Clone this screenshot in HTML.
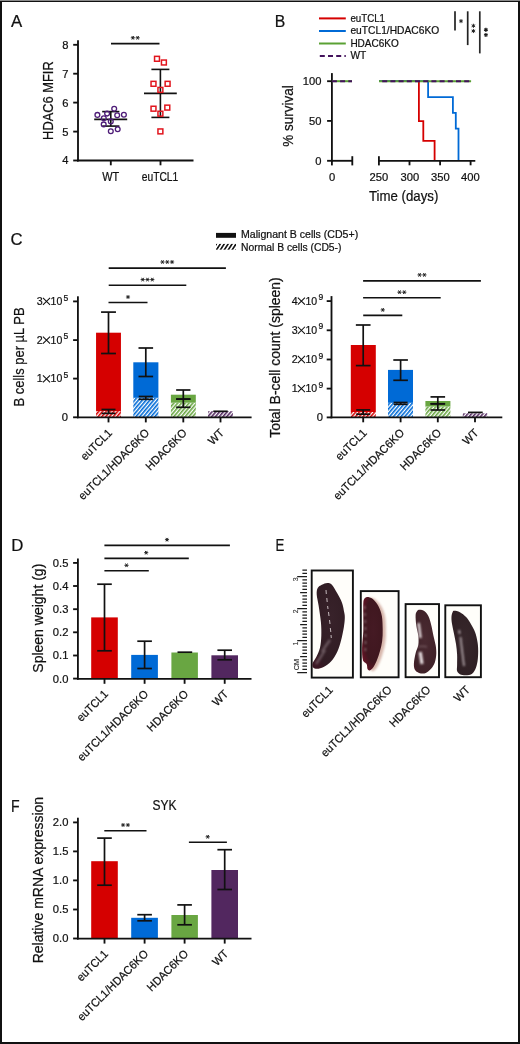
<!DOCTYPE html>
<html><head><meta charset="utf-8"><style>
html,body{margin:0;padding:0;background:#fff;}
svg{display:block;font-family:"Liberation Sans", sans-serif;will-change:transform;}
</style></head><body>
<svg width="520" height="1044" viewBox="0 0 520 1044">
<defs>
<pattern id="hr" patternUnits="userSpaceOnUse" width="2.9" height="10" patternTransform="rotate(40)"><rect x="0" y="0" width="1.6" height="10" fill="#d50000"/></pattern>
<pattern id="hb" patternUnits="userSpaceOnUse" width="2.9" height="10" patternTransform="rotate(40)"><rect x="0" y="0" width="1.6" height="10" fill="#006ad6"/></pattern>
<pattern id="hg" patternUnits="userSpaceOnUse" width="2.9" height="10" patternTransform="rotate(40)"><rect x="0" y="0" width="1.6" height="10" fill="#69a642"/></pattern>
<pattern id="hp" patternUnits="userSpaceOnUse" width="2.9" height="10" patternTransform="rotate(40)"><rect x="0" y="0" width="1.6" height="10" fill="#52275f"/></pattern>
<pattern id="hk" patternUnits="userSpaceOnUse" width="3.3" height="10" patternTransform="rotate(33)"><rect x="0" y="0" width="1.6" height="10" fill="#111"/></pattern>
<radialGradient id="sp1" cx="0.6" cy="0.4" r="0.7"><stop offset="0" stop-color="#38222a"/><stop offset="0.8" stop-color="#301c23"/><stop offset="1" stop-color="#3a1622"/></radialGradient>
<radialGradient id="sp2" cx="0.55" cy="0.45" r="0.62"><stop offset="0" stop-color="#451a24"/><stop offset="0.7" stop-color="#3f171f"/><stop offset="1" stop-color="#621324"/></radialGradient>
<radialGradient id="sp3" cx="0.5" cy="0.45" r="0.7"><stop offset="0" stop-color="#4a2a31"/><stop offset="0.8" stop-color="#3f2228"/><stop offset="1" stop-color="#4a1c26"/></radialGradient>
<radialGradient id="sp4" cx="0.5" cy="0.45" r="0.7"><stop offset="0" stop-color="#37272b"/><stop offset="0.8" stop-color="#2f2024"/><stop offset="1" stop-color="#3a1b24"/></radialGradient>
<filter id="blur05" x="-50%" y="-50%" width="200%" height="200%"><feGaussianBlur stdDeviation="0.5"/></filter>
<filter id="blur08" x="-50%" y="-50%" width="200%" height="200%"><feGaussianBlur stdDeviation="0.8"/></filter>
<filter id="blur1" x="-20%" y="-20%" width="140%" height="140%"><feGaussianBlur stdDeviation="1.2"/></filter>
</defs>
<rect x="0" y="0" width="520" height="1044" fill="#fff"/>
<text x="11.00" y="26.80" font-size="16.8" text-anchor="start" fill="#111" stroke="#111" stroke-width="0.22" >A</text>
<line x1="78.00" y1="40.20" x2="78.00" y2="161.40" stroke="#111" stroke-width="1.85" />
<line x1="73.20" y1="44.80" x2="78.00" y2="44.80" stroke="#111" stroke-width="1.85" />
<line x1="73.20" y1="73.70" x2="78.00" y2="73.70" stroke="#111" stroke-width="1.85" />
<line x1="73.20" y1="102.60" x2="78.00" y2="102.60" stroke="#111" stroke-width="1.85" />
<line x1="73.20" y1="131.60" x2="78.00" y2="131.60" stroke="#111" stroke-width="1.85" />
<line x1="73.20" y1="160.50" x2="78.00" y2="160.50" stroke="#111" stroke-width="1.85" />
<text x="68.50" y="48.70" font-size="11.2" text-anchor="end" fill="#111" stroke="#111" stroke-width="0.22" >8</text>
<text x="68.50" y="77.60" font-size="11.2" text-anchor="end" fill="#111" stroke="#111" stroke-width="0.22" >7</text>
<text x="68.50" y="106.50" font-size="11.2" text-anchor="end" fill="#111" stroke="#111" stroke-width="0.22" >6</text>
<text x="68.50" y="135.50" font-size="11.2" text-anchor="end" fill="#111" stroke="#111" stroke-width="0.22" >5</text>
<text x="68.50" y="164.40" font-size="11.2" text-anchor="end" fill="#111" stroke="#111" stroke-width="0.22" >4</text>
<line x1="77.10" y1="160.50" x2="193.50" y2="160.50" stroke="#111" stroke-width="1.85" />
<line x1="110.80" y1="160.50" x2="110.80" y2="165.30" stroke="#111" stroke-width="1.85" />
<line x1="160.50" y1="160.50" x2="160.50" y2="165.30" stroke="#111" stroke-width="1.85" />
<text x="110.80" y="180.80" font-size="12.2" text-anchor="middle" fill="#111" textLength="17.00" lengthAdjust="spacingAndGlyphs" stroke="#111" stroke-width="0.22" >WT</text>
<text x="160.00" y="180.80" font-size="12.2" text-anchor="middle" fill="#111" textLength="36.50" lengthAdjust="spacingAndGlyphs" stroke="#111" stroke-width="0.22" >euTCL1</text>
<text transform="translate(52.60,100.60) rotate(-90)" x="0" y="0" font-size="15.1" text-anchor="middle" fill="#111" textLength="78.60" lengthAdjust="spacingAndGlyphs" stroke="#111" stroke-width="0.22" >HDAC6 MFIR</text>
<line x1="94.20" y1="119.40" x2="127.20" y2="119.40" stroke="#111" stroke-width="1.6" />
<line x1="110.80" y1="111.60" x2="110.80" y2="126.10" stroke="#111" stroke-width="1.6" />
<line x1="102.20" y1="111.60" x2="119.40" y2="111.60" stroke="#111" stroke-width="1.6" />
<line x1="102.20" y1="126.10" x2="119.40" y2="126.10" stroke="#111" stroke-width="1.6" />
<circle cx="114.2" cy="108.7" r="2.4" fill="none" stroke="#4e1c78" stroke-width="1.3"/>
<circle cx="97.4" cy="114.9" r="2.4" fill="none" stroke="#4e1c78" stroke-width="1.3"/>
<circle cx="107.1" cy="113.6" r="2.4" fill="none" stroke="#4e1c78" stroke-width="1.3"/>
<circle cx="117.2" cy="115.2" r="2.4" fill="none" stroke="#4e1c78" stroke-width="1.3"/>
<circle cx="123.9" cy="114.7" r="2.4" fill="none" stroke="#4e1c78" stroke-width="1.3"/>
<circle cx="103.8" cy="118.2" r="2.4" fill="none" stroke="#4e1c78" stroke-width="1.3"/>
<circle cx="110.8" cy="121.4" r="2.4" fill="none" stroke="#4e1c78" stroke-width="1.3"/>
<circle cx="103.7" cy="124.4" r="2.4" fill="none" stroke="#4e1c78" stroke-width="1.3"/>
<circle cx="117.7" cy="129.2" r="2.4" fill="none" stroke="#4e1c78" stroke-width="1.3"/>
<circle cx="110.8" cy="131.3" r="2.4" fill="none" stroke="#4e1c78" stroke-width="1.3"/>
<line x1="144.00" y1="93.40" x2="176.80" y2="93.40" stroke="#111" stroke-width="1.6" />
<line x1="160.40" y1="69.40" x2="160.40" y2="117.40" stroke="#111" stroke-width="1.6" />
<line x1="151.40" y1="69.40" x2="169.40" y2="69.40" stroke="#111" stroke-width="1.6" />
<line x1="151.40" y1="117.40" x2="169.40" y2="117.40" stroke="#111" stroke-width="1.6" />
<rect x="154.55" y="56.35" width="4.9" height="4.9" fill="none" stroke="#e1151d" stroke-width="1.5"/>
<rect x="161.45" y="60.05" width="4.9" height="4.9" fill="none" stroke="#e1151d" stroke-width="1.5"/>
<rect x="151.05" y="81.35" width="4.9" height="4.9" fill="none" stroke="#e1151d" stroke-width="1.5"/>
<rect x="165.15" y="81.35" width="4.9" height="4.9" fill="none" stroke="#e1151d" stroke-width="1.5"/>
<rect x="157.95" y="87.45" width="4.9" height="4.9" fill="none" stroke="#e1151d" stroke-width="1.5"/>
<rect x="151.05" y="106.25" width="4.9" height="4.9" fill="none" stroke="#e1151d" stroke-width="1.5"/>
<rect x="164.85" y="105.15" width="4.9" height="4.9" fill="none" stroke="#e1151d" stroke-width="1.5"/>
<rect x="157.95" y="111.25" width="4.9" height="4.9" fill="none" stroke="#e1151d" stroke-width="1.5"/>
<rect x="157.95" y="128.95" width="4.9" height="4.9" fill="none" stroke="#e1151d" stroke-width="1.5"/>
<line x1="111.00" y1="43.60" x2="159.50" y2="43.60" stroke="#111" stroke-width="1.6" />
<path d="M130.80 37.80L134.90 37.80M131.82 36.02L133.88 39.58M133.88 36.02L131.82 39.58" stroke="#1a1a1a" stroke-width="0.95" fill="none"/>
<path d="M135.60 37.80L139.70 37.80M136.62 36.02L138.68 39.58M138.68 36.02L136.62 39.58" stroke="#1a1a1a" stroke-width="0.95" fill="none"/>
<text x="274.80" y="26.50" font-size="16.8" text-anchor="start" fill="#111" textLength="10.53" lengthAdjust="spacingAndGlyphs" stroke="#111" stroke-width="0.22" >B</text>
<line x1="319.00" y1="18.40" x2="345.80" y2="18.40" stroke="#d50000" stroke-width="2.0" />
<line x1="319.00" y1="31.00" x2="345.80" y2="31.00" stroke="#006ad6" stroke-width="2.0" />
<line x1="319.00" y1="43.50" x2="345.80" y2="43.50" stroke="#5aa134" stroke-width="2.0" />
<line x1="319.00" y1="56.00" x2="345.80" y2="56.00" stroke="#43125c" stroke-width="2.0" stroke-dasharray="5 3.2" stroke-dashoffset="-0.8"/>
<text x="350.40" y="22.40" font-size="10.6" text-anchor="start" fill="#111" textLength="34.60" lengthAdjust="spacingAndGlyphs" stroke="#111" stroke-width="0.22" >euTCL1</text>
<text x="350.40" y="34.40" font-size="10.6" text-anchor="start" fill="#111" textLength="88.80" lengthAdjust="spacingAndGlyphs" stroke="#111" stroke-width="0.22" >euTCL1/HDAC6KO</text>
<text x="350.40" y="46.60" font-size="10.6" text-anchor="start" fill="#111" textLength="48.40" lengthAdjust="spacingAndGlyphs" stroke="#111" stroke-width="0.22" >HDAC6KO</text>
<text x="350.40" y="59.00" font-size="10.6" text-anchor="start" fill="#111" textLength="15.80" lengthAdjust="spacingAndGlyphs" stroke="#111" stroke-width="0.22" >WT</text>
<line x1="455.00" y1="11.30" x2="455.00" y2="30.60" stroke="#222" stroke-width="1.7" />
<line x1="467.70" y1="11.30" x2="467.70" y2="45.10" stroke="#222" stroke-width="1.7" />
<line x1="479.80" y1="11.30" x2="479.80" y2="53.40" stroke="#2a2a2a" stroke-width="1.7" />
<path d="M461.00 19.05L461.00 23.15M462.78 20.07L459.22 22.13M462.78 22.12L459.22 20.08" stroke="#1a1a1a" stroke-width="0.95" fill="none"/>
<path d="M473.40 23.75L473.40 27.85M475.18 24.77L471.62 26.83M475.18 26.82L471.62 24.78" stroke="#1a1a1a" stroke-width="0.95" fill="none"/>
<path d="M473.40 28.95L473.40 33.05M475.18 29.97L471.62 32.02M475.18 32.02L471.62 29.98" stroke="#1a1a1a" stroke-width="0.95" fill="none"/>
<path d="M485.90 27.70L485.90 31.90M487.72 28.75L484.08 30.85M487.72 30.85L484.08 28.75" stroke="#1a1a1a" stroke-width="1.2" fill="none"/>
<path d="M485.90 32.90L485.90 37.10M487.72 33.95L484.08 36.05M487.72 36.05L484.08 33.95" stroke="#1a1a1a" stroke-width="1.2" fill="none"/>
<line x1="331.90" y1="73.10" x2="331.90" y2="161.70" stroke="#111" stroke-width="1.85" />
<line x1="327.10" y1="81.20" x2="331.90" y2="81.20" stroke="#111" stroke-width="1.85" />
<line x1="327.10" y1="120.90" x2="331.90" y2="120.90" stroke="#111" stroke-width="1.85" />
<line x1="327.10" y1="160.80" x2="331.90" y2="160.80" stroke="#111" stroke-width="1.85" />
<text x="321.40" y="85.10" font-size="11.2" text-anchor="end" fill="#111" stroke="#111" stroke-width="0.22" >100</text>
<text x="321.40" y="124.80" font-size="11.2" text-anchor="end" fill="#111" stroke="#111" stroke-width="0.22" >50</text>
<text x="321.40" y="164.70" font-size="11.2" text-anchor="end" fill="#111" stroke="#111" stroke-width="0.22" >0</text>
<line x1="331.00" y1="160.80" x2="352.30" y2="160.80" stroke="#111" stroke-width="1.85" />
<line x1="352.30" y1="156.20" x2="352.30" y2="165.40" stroke="#111" stroke-width="1.85" />
<line x1="331.90" y1="160.80" x2="331.90" y2="165.40" stroke="#111" stroke-width="1.85" />
<line x1="378.90" y1="160.80" x2="475.30" y2="160.80" stroke="#111" stroke-width="1.85" />
<line x1="378.90" y1="156.20" x2="378.90" y2="165.40" stroke="#111" stroke-width="1.85" />
<line x1="409.50" y1="160.80" x2="409.50" y2="165.30" stroke="#111" stroke-width="1.85" />
<line x1="440.10" y1="160.80" x2="440.10" y2="165.30" stroke="#111" stroke-width="1.85" />
<line x1="470.60" y1="160.80" x2="470.60" y2="165.30" stroke="#111" stroke-width="1.85" />
<text x="332.00" y="180.80" font-size="11.2" text-anchor="middle" fill="#111" stroke="#111" stroke-width="0.22" >0</text>
<text x="378.80" y="180.80" font-size="11.2" text-anchor="middle" fill="#111" stroke="#111" stroke-width="0.22" >250</text>
<text x="409.80" y="180.80" font-size="11.2" text-anchor="middle" fill="#111" stroke="#111" stroke-width="0.22" >300</text>
<text x="440.30" y="180.80" font-size="11.2" text-anchor="middle" fill="#111" stroke="#111" stroke-width="0.22" >350</text>
<text x="470.40" y="180.80" font-size="11.2" text-anchor="middle" fill="#111" stroke="#111" stroke-width="0.22" >400</text>
<text x="368.90" y="201.10" font-size="14.6" text-anchor="start" fill="#111" textLength="69.50" lengthAdjust="spacingAndGlyphs" stroke="#111" stroke-width="0.22" >Time (days)</text>
<text transform="translate(293.40,116.00) rotate(-90)" x="0" y="0" font-size="14.8" text-anchor="middle" fill="#111" textLength="61.50" lengthAdjust="spacingAndGlyphs" stroke="#111" stroke-width="0.22" >% survival</text>
<path d="M379 81.1H418.9V121.2H423.3V140.8H434.6V160" fill="none" stroke="#d50000" stroke-width="1.8"/>
<path d="M379 81.1H428.1V97.2H452.9V112.8H455.8V128.7H458.5V160" fill="none" stroke="#006ad6" stroke-width="1.8"/>
<line x1="331.90" y1="81.20" x2="352.00" y2="81.20" stroke="#5aa134" stroke-width="2.0" />
<line x1="331.90" y1="81.20" x2="352.00" y2="81.20" stroke="#43125c" stroke-width="2.0" stroke-dasharray="5 3.2" stroke-dashoffset="0"/>
<line x1="379.00" y1="81.20" x2="471.10" y2="81.20" stroke="#5aa134" stroke-width="2.0" />
<line x1="379.00" y1="81.20" x2="471.10" y2="81.20" stroke="#43125c" stroke-width="2.0" stroke-dasharray="5 3.2" stroke-dashoffset="-3.2"/>
<rect x="216.00" y="232.90" width="20.00" height="4.90" fill="#111" />
<rect x="216.00" y="243.90" width="20.00" height="5.80" fill="url(#hk)" />
<text x="241.00" y="238.30" font-size="10.4" text-anchor="start" fill="#111" textLength="117.20" lengthAdjust="spacingAndGlyphs" stroke="#111" stroke-width="0.22" >Malignant B cells (CD5+)</text>
<text x="241.00" y="250.50" font-size="10.4" text-anchor="start" fill="#111" textLength="100.50" lengthAdjust="spacingAndGlyphs" stroke="#111" stroke-width="0.22" >Normal B cells (CD5-)</text>
<text x="10.60" y="244.80" font-size="16.8" text-anchor="start" fill="#111" stroke="#111" stroke-width="0.22" >C</text>
<line x1="77.90" y1="296.30" x2="77.90" y2="418.20" stroke="#111" stroke-width="1.85" />
<line x1="73.10" y1="301.40" x2="77.90" y2="301.40" stroke="#111" stroke-width="1.85" />
<line x1="73.10" y1="340.10" x2="77.90" y2="340.10" stroke="#111" stroke-width="1.85" />
<line x1="73.10" y1="378.60" x2="77.90" y2="378.60" stroke="#111" stroke-width="1.85" />
<line x1="73.10" y1="417.30" x2="77.90" y2="417.30" stroke="#111" stroke-width="1.85" />
<text x="42.70" y="304.90" font-size="11.6" text-anchor="end" fill="#111" textLength="5.94" lengthAdjust="spacingAndGlyphs" stroke="#111" stroke-width="0.22" >3</text>
<path d="M42.95 297.85L50.05 304.95M50.05 297.85L42.95 304.95" stroke="#111" stroke-width="1.05" fill="none"/>
<text x="50.60" y="304.90" font-size="11.6" text-anchor="start" fill="#111" textLength="11.70" lengthAdjust="spacingAndGlyphs" stroke="#111" stroke-width="0.22" >10</text>
<text x="63.60" y="300.50" font-size="8.5" text-anchor="start" fill="#111" stroke="#111" stroke-width="0.22" >5</text>
<text x="42.70" y="343.60" font-size="11.6" text-anchor="end" fill="#111" textLength="5.94" lengthAdjust="spacingAndGlyphs" stroke="#111" stroke-width="0.22" >2</text>
<path d="M42.95 336.55L50.05 343.65M50.05 336.55L42.95 343.65" stroke="#111" stroke-width="1.05" fill="none"/>
<text x="50.60" y="343.60" font-size="11.6" text-anchor="start" fill="#111" textLength="11.70" lengthAdjust="spacingAndGlyphs" stroke="#111" stroke-width="0.22" >10</text>
<text x="63.60" y="339.20" font-size="8.5" text-anchor="start" fill="#111" stroke="#111" stroke-width="0.22" >5</text>
<text x="42.70" y="382.40" font-size="11.6" text-anchor="end" fill="#111" textLength="5.94" lengthAdjust="spacingAndGlyphs" stroke="#111" stroke-width="0.22" >1</text>
<path d="M42.95 375.35L50.05 382.45M50.05 375.35L42.95 382.45" stroke="#111" stroke-width="1.05" fill="none"/>
<text x="50.60" y="382.40" font-size="11.6" text-anchor="start" fill="#111" textLength="11.70" lengthAdjust="spacingAndGlyphs" stroke="#111" stroke-width="0.22" >10</text>
<text x="63.60" y="378.00" font-size="8.5" text-anchor="start" fill="#111" stroke="#111" stroke-width="0.22" >5</text>
<text x="68.00" y="421.20" font-size="11.2" text-anchor="end" fill="#111" stroke="#111" stroke-width="0.22" >0</text>
<rect x="96.05" y="332.70" width="24.90" height="78.40" fill="#d50000" />
<rect x="96.05" y="411.10" width="24.90" height="6.20" fill="url(#hr)" />
<rect x="133.30" y="362.30" width="25.10" height="35.50" fill="#006ad6" />
<rect x="133.30" y="397.80" width="25.10" height="19.50" fill="url(#hb)" />
<rect x="170.90" y="394.70" width="24.90" height="8.00" fill="#69a642" />
<rect x="170.90" y="402.70" width="24.90" height="14.60" fill="url(#hg)" />
<rect x="208.10" y="411.20" width="24.80" height="6.10" fill="url(#hp)" />
<line x1="77.00" y1="417.30" x2="251.60" y2="417.30" stroke="#111" stroke-width="1.85" />
<line x1="108.50" y1="417.30" x2="108.50" y2="422.40" stroke="#111" stroke-width="1.85" />
<line x1="145.80" y1="417.30" x2="145.80" y2="422.40" stroke="#111" stroke-width="1.85" />
<line x1="183.30" y1="417.30" x2="183.30" y2="422.40" stroke="#111" stroke-width="1.85" />
<line x1="220.50" y1="417.30" x2="220.50" y2="422.40" stroke="#111" stroke-width="1.85" />
<line x1="108.50" y1="312.10" x2="108.50" y2="353.50" stroke="#111" stroke-width="1.7" />
<line x1="101.05" y1="312.10" x2="115.95" y2="312.10" stroke="#111" stroke-width="1.7" />
<line x1="101.05" y1="353.50" x2="115.95" y2="353.50" stroke="#111" stroke-width="1.7" />
<line x1="108.50" y1="409.50" x2="108.50" y2="413.40" stroke="#111" stroke-width="1.7" />
<line x1="101.50" y1="409.50" x2="115.50" y2="409.50" stroke="#111" stroke-width="1.7" />
<line x1="101.50" y1="413.40" x2="115.50" y2="413.40" stroke="#111" stroke-width="1.7" />
<line x1="145.80" y1="348.00" x2="145.80" y2="376.50" stroke="#111" stroke-width="1.7" />
<line x1="138.50" y1="348.00" x2="153.10" y2="348.00" stroke="#111" stroke-width="1.7" />
<line x1="138.50" y1="376.50" x2="153.10" y2="376.50" stroke="#111" stroke-width="1.7" />
<line x1="145.80" y1="396.50" x2="145.80" y2="399.30" stroke="#111" stroke-width="1.7" />
<line x1="138.70" y1="396.50" x2="152.90" y2="396.50" stroke="#111" stroke-width="1.7" />
<line x1="138.70" y1="399.30" x2="152.90" y2="399.30" stroke="#111" stroke-width="1.7" />
<line x1="183.30" y1="390.00" x2="183.30" y2="399.10" stroke="#111" stroke-width="1.7" />
<line x1="176.15" y1="390.00" x2="190.45" y2="390.00" stroke="#111" stroke-width="1.7" />
<line x1="176.15" y1="399.10" x2="190.45" y2="399.10" stroke="#111" stroke-width="1.7" />
<line x1="183.30" y1="399.10" x2="183.30" y2="407.30" stroke="#111" stroke-width="1.7" />
<line x1="176.15" y1="399.10" x2="190.45" y2="399.10" stroke="#111" stroke-width="1.7" />
<line x1="176.15" y1="407.30" x2="190.45" y2="407.30" stroke="#111" stroke-width="1.7" />
<line x1="213.30" y1="411.30" x2="227.70" y2="411.30" stroke="#111" stroke-width="1.7" />
<line x1="108.70" y1="268.10" x2="225.90" y2="268.10" stroke="#111" stroke-width="1.6" />
<path d="M160.45 262.00L164.55 262.00M161.47 260.22L163.53 263.78M163.53 260.22L161.47 263.78" stroke="#1a1a1a" stroke-width="0.95" fill="none"/>
<path d="M165.25 262.00L169.35 262.00M166.28 260.22L168.33 263.78M168.33 260.22L166.28 263.78" stroke="#1a1a1a" stroke-width="0.95" fill="none"/>
<path d="M170.05 262.00L174.15 262.00M171.07 260.22L173.12 263.78M173.12 260.22L171.07 263.78" stroke="#1a1a1a" stroke-width="0.95" fill="none"/>
<line x1="108.70" y1="285.30" x2="186.30" y2="285.30" stroke="#111" stroke-width="1.6" />
<path d="M140.65 279.60L144.75 279.60M141.67 277.82L143.72 281.38M143.72 277.82L141.67 281.38" stroke="#1a1a1a" stroke-width="0.95" fill="none"/>
<path d="M145.45 279.60L149.55 279.60M146.47 277.82L148.53 281.38M148.53 277.82L146.47 281.38" stroke="#1a1a1a" stroke-width="0.95" fill="none"/>
<path d="M150.25 279.60L154.35 279.60M151.27 277.82L153.32 281.38M153.32 277.82L151.27 281.38" stroke="#1a1a1a" stroke-width="0.95" fill="none"/>
<line x1="108.50" y1="302.50" x2="147.50" y2="302.50" stroke="#111" stroke-width="1.6" />
<path d="M125.95 297.00L130.05 297.00M126.97 295.22L129.03 298.78M129.03 295.22L126.97 298.78" stroke="#1a1a1a" stroke-width="0.95" fill="none"/>
<text transform="translate(24.10,356.90) rotate(-90)" x="0" y="0" font-size="15.0" text-anchor="middle" fill="#111" textLength="99.00" lengthAdjust="spacingAndGlyphs" stroke="#111" stroke-width="0.22" >B cells per µL PB</text>
<text transform="translate(112.80,433.60) rotate(-45)" x="0" y="0" font-size="11.5" text-anchor="end" fill="#111" textLength="38.87" lengthAdjust="spacingAndGlyphs" stroke="#111" stroke-width="0.22" >euTCL1</text>
<text transform="translate(150.10,433.60) rotate(-45)" x="0" y="0" font-size="11.5" text-anchor="end" fill="#111" textLength="94.72" lengthAdjust="spacingAndGlyphs" stroke="#111" stroke-width="0.22" >euTCL1/HDAC6KO</text>
<text transform="translate(187.60,433.60) rotate(-45)" x="0" y="0" font-size="11.5" text-anchor="end" fill="#111" textLength="52.82" lengthAdjust="spacingAndGlyphs" stroke="#111" stroke-width="0.22" >HDAC6KO</text>
<text transform="translate(224.80,433.60) rotate(-45)" x="0" y="0" font-size="11.5" text-anchor="end" fill="#111" textLength="16.98" lengthAdjust="spacingAndGlyphs" stroke="#111" stroke-width="0.22" >WT</text>
<line x1="331.50" y1="296.10" x2="331.50" y2="418.30" stroke="#111" stroke-width="1.85" />
<line x1="326.70" y1="301.10" x2="331.50" y2="301.10" stroke="#111" stroke-width="1.85" />
<line x1="326.70" y1="330.30" x2="331.50" y2="330.30" stroke="#111" stroke-width="1.85" />
<line x1="326.70" y1="359.50" x2="331.50" y2="359.50" stroke="#111" stroke-width="1.85" />
<line x1="326.70" y1="388.60" x2="331.50" y2="388.60" stroke="#111" stroke-width="1.85" />
<line x1="326.70" y1="417.40" x2="331.50" y2="417.40" stroke="#111" stroke-width="1.85" />
<text x="297.60" y="304.60" font-size="11.6" text-anchor="end" fill="#111" textLength="5.94" lengthAdjust="spacingAndGlyphs" stroke="#111" stroke-width="0.22" >4</text>
<path d="M297.85 297.55L304.95 304.65M304.95 297.55L297.85 304.65" stroke="#111" stroke-width="1.05" fill="none"/>
<text x="305.50" y="304.60" font-size="11.6" text-anchor="start" fill="#111" textLength="11.70" lengthAdjust="spacingAndGlyphs" stroke="#111" stroke-width="0.22" >10</text>
<text x="318.50" y="300.20" font-size="8.5" text-anchor="start" fill="#111" stroke="#111" stroke-width="0.22" >9</text>
<text x="297.60" y="333.80" font-size="11.6" text-anchor="end" fill="#111" textLength="5.94" lengthAdjust="spacingAndGlyphs" stroke="#111" stroke-width="0.22" >3</text>
<path d="M297.85 326.75L304.95 333.85M304.95 326.75L297.85 333.85" stroke="#111" stroke-width="1.05" fill="none"/>
<text x="305.50" y="333.80" font-size="11.6" text-anchor="start" fill="#111" textLength="11.70" lengthAdjust="spacingAndGlyphs" stroke="#111" stroke-width="0.22" >10</text>
<text x="318.50" y="329.40" font-size="8.5" text-anchor="start" fill="#111" stroke="#111" stroke-width="0.22" >9</text>
<text x="297.60" y="363.00" font-size="11.6" text-anchor="end" fill="#111" textLength="5.94" lengthAdjust="spacingAndGlyphs" stroke="#111" stroke-width="0.22" >2</text>
<path d="M297.85 355.95L304.95 363.05M304.95 355.95L297.85 363.05" stroke="#111" stroke-width="1.05" fill="none"/>
<text x="305.50" y="363.00" font-size="11.6" text-anchor="start" fill="#111" textLength="11.70" lengthAdjust="spacingAndGlyphs" stroke="#111" stroke-width="0.22" >10</text>
<text x="318.50" y="358.60" font-size="8.5" text-anchor="start" fill="#111" stroke="#111" stroke-width="0.22" >9</text>
<text x="297.60" y="392.10" font-size="11.6" text-anchor="end" fill="#111" textLength="5.94" lengthAdjust="spacingAndGlyphs" stroke="#111" stroke-width="0.22" >1</text>
<path d="M297.85 385.05L304.95 392.15M304.95 385.05L297.85 392.15" stroke="#111" stroke-width="1.05" fill="none"/>
<text x="305.50" y="392.10" font-size="11.6" text-anchor="start" fill="#111" textLength="11.70" lengthAdjust="spacingAndGlyphs" stroke="#111" stroke-width="0.22" >10</text>
<text x="318.50" y="387.70" font-size="8.5" text-anchor="start" fill="#111" stroke="#111" stroke-width="0.22" >9</text>
<text x="322.90" y="421.30" font-size="11.2" text-anchor="end" fill="#111" stroke="#111" stroke-width="0.22" >0</text>
<rect x="350.80" y="345.00" width="25.00" height="67.00" fill="#d50000" />
<rect x="350.80" y="412.00" width="25.00" height="5.30" fill="url(#hr)" />
<rect x="388.00" y="369.90" width="25.00" height="32.90" fill="#006ad6" />
<rect x="388.00" y="402.80" width="25.00" height="14.50" fill="url(#hb)" />
<rect x="425.40" y="401.00" width="25.00" height="5.50" fill="#69a642" />
<rect x="425.40" y="406.50" width="25.00" height="10.80" fill="url(#hg)" />
<rect x="462.80" y="413.30" width="24.50" height="4.00" fill="url(#hp)" />
<line x1="330.60" y1="417.30" x2="502.30" y2="417.30" stroke="#111" stroke-width="1.85" />
<line x1="363.20" y1="417.30" x2="363.20" y2="422.30" stroke="#111" stroke-width="1.85" />
<line x1="400.60" y1="417.30" x2="400.60" y2="422.30" stroke="#111" stroke-width="1.85" />
<line x1="437.80" y1="417.30" x2="437.80" y2="422.30" stroke="#111" stroke-width="1.85" />
<line x1="475.00" y1="417.30" x2="475.00" y2="422.30" stroke="#111" stroke-width="1.85" />
<line x1="363.20" y1="325.00" x2="363.20" y2="365.60" stroke="#111" stroke-width="1.7" />
<line x1="355.85" y1="325.00" x2="370.55" y2="325.00" stroke="#111" stroke-width="1.7" />
<line x1="355.85" y1="365.60" x2="370.55" y2="365.60" stroke="#111" stroke-width="1.7" />
<line x1="363.20" y1="409.90" x2="363.20" y2="414.20" stroke="#111" stroke-width="1.7" />
<line x1="356.20" y1="409.90" x2="370.20" y2="409.90" stroke="#111" stroke-width="1.7" />
<line x1="356.20" y1="414.20" x2="370.20" y2="414.20" stroke="#111" stroke-width="1.7" />
<line x1="400.60" y1="360.00" x2="400.60" y2="380.30" stroke="#111" stroke-width="1.7" />
<line x1="393.30" y1="360.00" x2="407.90" y2="360.00" stroke="#111" stroke-width="1.7" />
<line x1="393.30" y1="380.30" x2="407.90" y2="380.30" stroke="#111" stroke-width="1.7" />
<line x1="400.60" y1="402.50" x2="400.60" y2="404.30" stroke="#111" stroke-width="1.7" />
<line x1="393.60" y1="402.50" x2="407.60" y2="402.50" stroke="#111" stroke-width="1.7" />
<line x1="393.60" y1="404.30" x2="407.60" y2="404.30" stroke="#111" stroke-width="1.7" />
<line x1="437.80" y1="396.90" x2="437.80" y2="403.80" stroke="#111" stroke-width="1.7" />
<line x1="430.50" y1="396.90" x2="445.10" y2="396.90" stroke="#111" stroke-width="1.7" />
<line x1="430.50" y1="403.80" x2="445.10" y2="403.80" stroke="#111" stroke-width="1.7" />
<line x1="437.80" y1="403.80" x2="437.80" y2="410.00" stroke="#111" stroke-width="1.7" />
<line x1="430.50" y1="403.80" x2="445.10" y2="403.80" stroke="#111" stroke-width="1.7" />
<line x1="430.50" y1="410.00" x2="445.10" y2="410.00" stroke="#111" stroke-width="1.7" />
<line x1="468.00" y1="412.40" x2="482.70" y2="412.40" stroke="#111" stroke-width="1.7" />
<line x1="363.10" y1="280.90" x2="480.90" y2="280.90" stroke="#111" stroke-width="1.6" />
<path d="M417.55 274.90L421.65 274.90M418.58 273.12L420.62 276.68M420.62 273.12L418.58 276.68" stroke="#1a1a1a" stroke-width="0.95" fill="none"/>
<path d="M422.35 274.90L426.45 274.90M423.38 273.12L425.43 276.68M425.43 273.12L423.38 276.68" stroke="#1a1a1a" stroke-width="0.95" fill="none"/>
<line x1="363.10" y1="297.80" x2="440.70" y2="297.80" stroke="#111" stroke-width="1.6" />
<path d="M397.45 292.20L401.55 292.20M398.48 290.42L400.52 293.98M400.52 290.42L398.48 293.98" stroke="#1a1a1a" stroke-width="0.95" fill="none"/>
<path d="M402.25 292.20L406.35 292.20M403.28 290.42L405.32 293.98M405.32 290.42L403.28 293.98" stroke="#1a1a1a" stroke-width="0.95" fill="none"/>
<line x1="363.20" y1="315.40" x2="402.30" y2="315.40" stroke="#111" stroke-width="1.6" />
<path d="M380.70 309.90L384.80 309.90M381.73 308.12L383.77 311.68M383.77 308.12L381.73 311.68" stroke="#1a1a1a" stroke-width="0.95" fill="none"/>
<text transform="translate(279.50,357.50) rotate(-90)" x="0" y="0" font-size="15.0" text-anchor="middle" fill="#111" textLength="160.50" lengthAdjust="spacingAndGlyphs" stroke="#111" stroke-width="0.22" >Total B-cell count (spleen)</text>
<text transform="translate(367.50,433.60) rotate(-45)" x="0" y="0" font-size="11.5" text-anchor="end" fill="#111" textLength="38.87" lengthAdjust="spacingAndGlyphs" stroke="#111" stroke-width="0.22" >euTCL1</text>
<text transform="translate(404.90,433.60) rotate(-45)" x="0" y="0" font-size="11.5" text-anchor="end" fill="#111" textLength="94.72" lengthAdjust="spacingAndGlyphs" stroke="#111" stroke-width="0.22" >euTCL1/HDAC6KO</text>
<text transform="translate(442.10,433.60) rotate(-45)" x="0" y="0" font-size="11.5" text-anchor="end" fill="#111" textLength="52.82" lengthAdjust="spacingAndGlyphs" stroke="#111" stroke-width="0.22" >HDAC6KO</text>
<text transform="translate(479.30,433.60) rotate(-45)" x="0" y="0" font-size="11.5" text-anchor="end" fill="#111" textLength="16.98" lengthAdjust="spacingAndGlyphs" stroke="#111" stroke-width="0.22" >WT</text>
<text x="11.30" y="551.10" font-size="16.8" text-anchor="start" fill="#111" stroke="#111" stroke-width="0.22" >D</text>
<line x1="77.90" y1="558.50" x2="77.90" y2="679.60" stroke="#111" stroke-width="1.85" />
<line x1="73.10" y1="678.60" x2="77.90" y2="678.60" stroke="#111" stroke-width="1.85" />
<line x1="73.10" y1="655.50" x2="77.90" y2="655.50" stroke="#111" stroke-width="1.85" />
<line x1="73.10" y1="632.30" x2="77.90" y2="632.30" stroke="#111" stroke-width="1.85" />
<line x1="73.10" y1="609.20" x2="77.90" y2="609.20" stroke="#111" stroke-width="1.85" />
<line x1="73.10" y1="586.00" x2="77.90" y2="586.00" stroke="#111" stroke-width="1.85" />
<line x1="73.10" y1="562.90" x2="77.90" y2="562.90" stroke="#111" stroke-width="1.85" />
<text x="68.40" y="682.50" font-size="11.2" text-anchor="end" fill="#111" stroke="#111" stroke-width="0.22" >0.0</text>
<text x="68.40" y="659.40" font-size="11.2" text-anchor="end" fill="#111" stroke="#111" stroke-width="0.22" >0.1</text>
<text x="68.40" y="636.20" font-size="11.2" text-anchor="end" fill="#111" stroke="#111" stroke-width="0.22" >0.2</text>
<text x="68.40" y="613.10" font-size="11.2" text-anchor="end" fill="#111" stroke="#111" stroke-width="0.22" >0.3</text>
<text x="68.40" y="589.90" font-size="11.2" text-anchor="end" fill="#111" stroke="#111" stroke-width="0.22" >0.4</text>
<text x="68.40" y="566.80" font-size="11.2" text-anchor="end" fill="#111" stroke="#111" stroke-width="0.22" >0.5</text>
<rect x="91.20" y="617.40" width="26.60" height="61.30" fill="#d50000" />
<rect x="131.20" y="654.90" width="26.70" height="23.80" fill="#006ad6" />
<rect x="171.40" y="652.50" width="26.50" height="26.20" fill="#69a642" />
<rect x="211.40" y="655.30" width="26.60" height="23.40" fill="#52275f" />
<line x1="77.00" y1="678.80" x2="251.50" y2="678.80" stroke="#111" stroke-width="1.85" />
<line x1="104.50" y1="678.80" x2="104.50" y2="683.80" stroke="#111" stroke-width="1.85" />
<line x1="144.60" y1="678.80" x2="144.60" y2="683.80" stroke="#111" stroke-width="1.85" />
<line x1="184.60" y1="678.80" x2="184.60" y2="683.80" stroke="#111" stroke-width="1.85" />
<line x1="224.70" y1="678.80" x2="224.70" y2="683.80" stroke="#111" stroke-width="1.85" />
<line x1="104.50" y1="584.20" x2="104.50" y2="650.80" stroke="#111" stroke-width="1.7" />
<line x1="97.20" y1="584.20" x2="111.80" y2="584.20" stroke="#111" stroke-width="1.7" />
<line x1="97.20" y1="650.80" x2="111.80" y2="650.80" stroke="#111" stroke-width="1.7" />
<line x1="144.60" y1="641.20" x2="144.60" y2="668.50" stroke="#111" stroke-width="1.7" />
<line x1="137.30" y1="641.20" x2="151.90" y2="641.20" stroke="#111" stroke-width="1.7" />
<line x1="137.30" y1="668.50" x2="151.90" y2="668.50" stroke="#111" stroke-width="1.7" />
<line x1="177.50" y1="652.20" x2="192.20" y2="652.20" stroke="#111" stroke-width="1.7" />
<line x1="224.70" y1="650.20" x2="224.70" y2="659.80" stroke="#111" stroke-width="1.7" />
<line x1="217.40" y1="650.20" x2="232.00" y2="650.20" stroke="#111" stroke-width="1.7" />
<line x1="217.40" y1="659.80" x2="232.00" y2="659.80" stroke="#111" stroke-width="1.7" />
<line x1="104.40" y1="545.40" x2="229.90" y2="545.40" stroke="#111" stroke-width="1.6" />
<path d="M164.95 539.70L169.05 539.70M165.97 537.92L168.03 541.48M168.03 537.92L165.97 541.48" stroke="#1a1a1a" stroke-width="0.95" fill="none"/>
<line x1="104.40" y1="558.40" x2="188.80" y2="558.40" stroke="#111" stroke-width="1.6" />
<path d="M144.15 552.70L148.25 552.70M145.17 550.92L147.22 554.48M147.22 550.92L145.17 554.48" stroke="#1a1a1a" stroke-width="0.95" fill="none"/>
<line x1="104.40" y1="570.80" x2="148.80" y2="570.80" stroke="#111" stroke-width="1.6" />
<path d="M124.45 565.30L128.55 565.30M125.47 563.52L127.53 567.08M127.53 563.52L125.47 567.08" stroke="#1a1a1a" stroke-width="0.95" fill="none"/>
<text transform="translate(43.30,618.20) rotate(-90)" x="0" y="0" font-size="15.0" text-anchor="middle" fill="#111" textLength="109.00" lengthAdjust="spacingAndGlyphs" stroke="#111" stroke-width="0.22" >Spleen weight (g)</text>
<text transform="translate(108.80,694.80) rotate(-45)" x="0" y="0" font-size="11.5" text-anchor="end" fill="#111" textLength="38.87" lengthAdjust="spacingAndGlyphs" stroke="#111" stroke-width="0.22" >euTCL1</text>
<text transform="translate(148.90,694.80) rotate(-45)" x="0" y="0" font-size="11.5" text-anchor="end" fill="#111" textLength="94.72" lengthAdjust="spacingAndGlyphs" stroke="#111" stroke-width="0.22" >euTCL1/HDAC6KO</text>
<text transform="translate(188.90,694.80) rotate(-45)" x="0" y="0" font-size="11.5" text-anchor="end" fill="#111" textLength="52.82" lengthAdjust="spacingAndGlyphs" stroke="#111" stroke-width="0.22" >HDAC6KO</text>
<text transform="translate(229.00,694.80) rotate(-45)" x="0" y="0" font-size="11.5" text-anchor="end" fill="#111" textLength="16.98" lengthAdjust="spacingAndGlyphs" stroke="#111" stroke-width="0.22" >WT</text>
<text x="10.90" y="811.60" font-size="16.8" text-anchor="start" fill="#111" textLength="8.62" lengthAdjust="spacingAndGlyphs" stroke="#111" stroke-width="0.22" >F</text>
<text x="164.40" y="810.30" font-size="15.2" text-anchor="middle" fill="#111" textLength="24.00" lengthAdjust="spacingAndGlyphs" stroke="#111" stroke-width="0.22" >SYK</text>
<line x1="77.90" y1="817.70" x2="77.90" y2="939.50" stroke="#111" stroke-width="1.85" />
<line x1="73.10" y1="938.50" x2="77.90" y2="938.50" stroke="#111" stroke-width="1.85" />
<line x1="73.10" y1="909.50" x2="77.90" y2="909.50" stroke="#111" stroke-width="1.85" />
<line x1="73.10" y1="880.40" x2="77.90" y2="880.40" stroke="#111" stroke-width="1.85" />
<line x1="73.10" y1="851.40" x2="77.90" y2="851.40" stroke="#111" stroke-width="1.85" />
<line x1="73.10" y1="822.40" x2="77.90" y2="822.40" stroke="#111" stroke-width="1.85" />
<text x="68.40" y="942.40" font-size="11.2" text-anchor="end" fill="#111" stroke="#111" stroke-width="0.22" >0.0</text>
<text x="68.40" y="913.40" font-size="11.2" text-anchor="end" fill="#111" stroke="#111" stroke-width="0.22" >0.5</text>
<text x="68.40" y="884.30" font-size="11.2" text-anchor="end" fill="#111" stroke="#111" stroke-width="0.22" >1.0</text>
<text x="68.40" y="855.30" font-size="11.2" text-anchor="end" fill="#111" stroke="#111" stroke-width="0.22" >1.5</text>
<text x="68.40" y="826.30" font-size="11.2" text-anchor="end" fill="#111" stroke="#111" stroke-width="0.22" >2.0</text>
<rect x="91.20" y="861.20" width="26.60" height="77.40" fill="#d50000" />
<rect x="131.20" y="917.80" width="26.70" height="20.80" fill="#006ad6" />
<rect x="171.40" y="915.00" width="26.50" height="23.60" fill="#69a642" />
<rect x="211.40" y="870.00" width="26.60" height="68.60" fill="#52275f" />
<line x1="77.00" y1="938.60" x2="251.50" y2="938.60" stroke="#111" stroke-width="1.85" />
<line x1="104.50" y1="938.60" x2="104.50" y2="943.60" stroke="#111" stroke-width="1.85" />
<line x1="144.60" y1="938.60" x2="144.60" y2="943.60" stroke="#111" stroke-width="1.85" />
<line x1="184.60" y1="938.60" x2="184.60" y2="943.60" stroke="#111" stroke-width="1.85" />
<line x1="224.70" y1="938.60" x2="224.70" y2="943.60" stroke="#111" stroke-width="1.85" />
<line x1="104.50" y1="838.10" x2="104.50" y2="885.20" stroke="#111" stroke-width="1.7" />
<line x1="97.20" y1="838.10" x2="111.80" y2="838.10" stroke="#111" stroke-width="1.7" />
<line x1="97.20" y1="885.20" x2="111.80" y2="885.20" stroke="#111" stroke-width="1.7" />
<line x1="144.60" y1="914.70" x2="144.60" y2="920.80" stroke="#111" stroke-width="1.7" />
<line x1="137.30" y1="914.70" x2="151.90" y2="914.70" stroke="#111" stroke-width="1.7" />
<line x1="137.30" y1="920.80" x2="151.90" y2="920.80" stroke="#111" stroke-width="1.7" />
<line x1="184.60" y1="904.90" x2="184.60" y2="924.80" stroke="#111" stroke-width="1.7" />
<line x1="177.30" y1="904.90" x2="191.90" y2="904.90" stroke="#111" stroke-width="1.7" />
<line x1="177.30" y1="924.80" x2="191.90" y2="924.80" stroke="#111" stroke-width="1.7" />
<line x1="224.70" y1="849.70" x2="224.70" y2="889.50" stroke="#111" stroke-width="1.7" />
<line x1="217.40" y1="849.70" x2="232.00" y2="849.70" stroke="#111" stroke-width="1.7" />
<line x1="217.40" y1="889.50" x2="232.00" y2="889.50" stroke="#111" stroke-width="1.7" />
<line x1="104.30" y1="830.70" x2="146.50" y2="830.70" stroke="#111" stroke-width="1.6" />
<path d="M121.05 825.00L125.15 825.00M122.07 823.22L124.12 826.78M124.12 823.22L122.07 826.78" stroke="#1a1a1a" stroke-width="0.95" fill="none"/>
<path d="M125.85 825.00L129.95 825.00M126.87 823.22L128.92 826.78M128.92 823.22L126.87 826.78" stroke="#1a1a1a" stroke-width="0.95" fill="none"/>
<line x1="188.90" y1="842.30" x2="226.90" y2="842.30" stroke="#111" stroke-width="1.6" />
<path d="M205.65 836.80L209.75 836.80M206.67 835.02L208.72 838.58M208.72 835.02L206.67 838.58" stroke="#1a1a1a" stroke-width="0.95" fill="none"/>
<text transform="translate(43.10,880.10) rotate(-90)" x="0" y="0" font-size="15.0" text-anchor="middle" fill="#111" textLength="166.40" lengthAdjust="spacingAndGlyphs" stroke="#111" stroke-width="0.22" >Relative mRNA expression</text>
<text transform="translate(108.80,954.60) rotate(-45)" x="0" y="0" font-size="11.5" text-anchor="end" fill="#111" textLength="38.87" lengthAdjust="spacingAndGlyphs" stroke="#111" stroke-width="0.22" >euTCL1</text>
<text transform="translate(148.90,954.60) rotate(-45)" x="0" y="0" font-size="11.5" text-anchor="end" fill="#111" textLength="94.72" lengthAdjust="spacingAndGlyphs" stroke="#111" stroke-width="0.22" >euTCL1/HDAC6KO</text>
<text transform="translate(188.90,954.60) rotate(-45)" x="0" y="0" font-size="11.5" text-anchor="end" fill="#111" textLength="52.82" lengthAdjust="spacingAndGlyphs" stroke="#111" stroke-width="0.22" >HDAC6KO</text>
<text transform="translate(229.00,954.60) rotate(-45)" x="0" y="0" font-size="11.5" text-anchor="end" fill="#111" textLength="16.98" lengthAdjust="spacingAndGlyphs" stroke="#111" stroke-width="0.22" >WT</text>
<text x="275.40" y="550.90" font-size="16.8" text-anchor="start" fill="#111" textLength="8.85" lengthAdjust="spacingAndGlyphs" stroke="#111" stroke-width="0.22" >E</text>
<rect x="311.70" y="570.50" width="41.20" height="107.10" fill="#fffefa" stroke="#111" stroke-width="1.9"/>
<rect x="360.80" y="591.10" width="37.80" height="86.20" fill="#fffefa" stroke="#111" stroke-width="1.9"/>
<rect x="405.60" y="604.10" width="33.40" height="73.10" fill="#fffefa" stroke="#111" stroke-width="1.9"/>
<rect x="445.30" y="605.30" width="35.60" height="71.90" fill="#fffefa" stroke="#111" stroke-width="1.9"/>
<path d="M367.40 599.90C368.03 598.87 368.87 597.80 370.30 597.80C371.73 597.80 374.08 598.32 376.00 599.90C377.92 601.48 380.28 604.43 381.80 607.30C383.32 610.17 384.42 613.27 385.10 617.10C385.78 620.93 385.85 626.18 385.90 630.30C385.95 634.42 385.85 638.22 385.40 641.80C384.95 645.38 384.07 648.63 383.20 651.80C382.33 654.97 381.28 658.13 380.20 660.80C379.12 663.47 377.90 666.07 376.70 667.80C375.50 669.53 374.00 670.87 373.00 671.20C372.00 671.53 371.23 670.85 370.70 669.80C370.17 668.75 370.57 666.40 369.80 664.90C369.03 663.40 366.85 663.55 366.10 660.80C365.35 658.05 365.23 653.20 365.30 648.40C365.37 643.60 366.30 637.48 366.50 632.00C366.70 626.52 366.50 620.17 366.50 615.50C366.50 610.83 366.35 606.60 366.50 604.00C366.65 601.40 366.77 600.93 367.40 599.90Z" fill="#d4b0a4" opacity="0.9" filter="url(#blur1)"/>
<path d="M327.30 582.90C328.98 582.90 330.22 582.93 331.90 584.70C333.58 586.47 335.72 590.50 337.40 593.50C339.08 596.50 340.85 599.48 342.00 602.70C343.15 605.92 343.83 610.20 344.30 612.80C344.77 615.40 344.88 615.85 344.80 618.30C344.72 620.75 344.42 623.83 343.80 627.50C343.18 631.17 342.17 636.32 341.10 640.30C340.03 644.28 339.08 647.87 337.40 651.40C335.72 654.93 333.30 658.90 331.00 661.50C328.70 664.10 325.90 665.78 323.60 667.00C321.30 668.22 318.95 668.72 317.20 668.80C315.45 668.88 313.87 668.42 313.10 667.50C312.33 666.58 312.07 665.07 312.60 663.30C313.13 661.53 315.07 659.50 316.30 656.90C317.53 654.30 319.17 651.23 320.00 647.70C320.83 644.17 321.15 639.98 321.30 635.70C321.45 631.42 321.35 627.05 320.90 622.00C320.45 616.95 319.30 610.00 318.60 605.40C317.90 600.80 316.85 597.30 316.70 594.40C316.55 591.50 316.85 589.62 317.70 588.00C318.55 586.38 320.20 585.55 321.80 584.70C323.40 583.85 325.62 582.90 327.30 582.90Z" fill="url(#sp1)"/>
<path d="M364.20 599.10C364.83 598.07 365.67 597.00 367.10 597.00C368.53 597.00 370.88 597.52 372.80 599.10C374.72 600.68 377.08 603.63 378.60 606.50C380.12 609.37 381.22 612.47 381.90 616.30C382.58 620.13 382.65 625.38 382.70 629.50C382.75 633.62 382.65 637.42 382.20 641.00C381.75 644.58 380.87 647.83 380.00 651.00C379.13 654.17 378.08 657.33 377.00 660.00C375.92 662.67 374.70 665.27 373.50 667.00C372.30 668.73 370.80 670.07 369.80 670.40C368.80 670.73 368.03 670.05 367.50 669.00C366.97 667.95 367.37 665.60 366.60 664.10C365.83 662.60 363.65 662.75 362.90 660.00C362.15 657.25 362.03 652.40 362.10 647.60C362.17 642.80 363.10 636.68 363.30 631.20C363.50 625.72 363.30 619.37 363.30 614.70C363.30 610.03 363.15 605.80 363.30 603.20C363.45 600.60 363.57 600.13 364.20 599.10Z" fill="url(#sp2)"/>
<path d="M419.70 609.80C420.97 609.80 423.10 610.05 424.60 611.20C426.10 612.35 427.57 614.28 428.70 616.70C429.83 619.12 430.60 622.48 431.40 625.70C432.20 628.92 432.80 632.78 433.50 636.00C434.20 639.22 435.13 642.12 435.60 645.00C436.07 647.88 436.42 650.43 436.30 653.30C436.18 656.17 435.82 659.57 434.90 662.20C433.98 664.83 432.42 667.25 430.80 669.10C429.18 670.95 427.17 672.67 425.20 673.30C423.23 673.93 420.72 673.48 419.00 672.90C417.28 672.32 415.75 671.35 414.90 669.80C414.05 668.25 413.78 666.35 413.90 663.60C414.02 660.85 414.87 656.40 415.60 653.30C416.33 650.20 417.85 647.88 418.30 645.00C418.75 642.12 418.63 639.22 418.30 636.00C417.97 632.78 416.75 629.15 416.30 625.70C415.85 622.25 415.48 617.72 415.60 615.30C415.72 612.88 416.32 612.12 417.00 611.20C417.68 610.28 418.43 609.80 419.70 609.80Z" fill="url(#sp3)"/>
<path d="M454.30 610.80C455.52 610.80 457.93 611.15 459.90 612.20C461.87 613.25 464.27 615.13 466.10 617.10C467.93 619.07 469.40 621.47 470.90 624.00C472.40 626.53 474.00 629.30 475.10 632.30C476.20 635.30 476.98 638.88 477.50 642.00C478.02 645.12 478.20 647.77 478.20 651.00C478.20 654.23 478.02 658.28 477.50 661.40C476.98 664.52 476.20 667.50 475.10 669.70C474.00 671.90 472.52 673.67 470.90 674.60C469.28 675.53 467.23 675.37 465.40 675.30C463.57 675.23 461.28 674.90 459.90 674.20C458.52 673.50 457.57 672.65 457.10 671.10C456.63 669.55 457.10 667.67 457.10 664.90C457.10 662.13 457.28 657.97 457.10 654.50C456.92 651.03 456.52 647.57 456.00 644.10C455.48 640.63 454.68 637.17 454.00 633.70C453.32 630.23 452.32 626.18 451.90 623.30C451.48 620.42 451.38 618.25 451.50 616.40C451.62 614.55 452.13 613.13 452.60 612.20C453.07 611.27 453.08 610.80 454.30 610.80Z" fill="url(#sp4)"/>
<g filter="url(#blur05)">
<path d="M326 590L326.3 594M326.8 598L327.2 602M327.6 606L328 609M328.5 612L329 616M329.5 620L330 624M330.3 628L330.8 632M331 635L331.3 638" stroke="#f0e8ea" stroke-width="0.9" opacity="0.85" fill="none"/>
</g>
<g filter="url(#blur08)">
<path d="M330 640C327 644 324 648 322 652M325 650C322 655 319 660 316 664" stroke="#9a8890" stroke-width="2.4" opacity="0.55" fill="none"/>
<path d="M364.6 606L364.8 609M364.9 613L365 616M365.1 620L365.2 623M365.3 627L365.4 630M365.4 634L365.5 637M365.5 641L365.5 644M365.4 648L365.3 651" stroke="#e8d8dc" stroke-width="0.9" opacity="0.7" fill="none"/>
<path d="M418.6 623C419.3 628 419.9 632 420.5 638" stroke="#fbf4f6" stroke-width="2.3" opacity="0.95" fill="none"/>
<path d="M420.2 652C420.8 656 421.4 660 422 664" stroke="#fbf4f6" stroke-width="3.0" opacity="0.95" fill="none"/>
<path d="M418 647C421 646 424 646 427 647" stroke="#c8b4ba" stroke-width="1.0" opacity="0.5" fill="none"/>
<path d="M459.2 630L459.6 634M460.5 637C461 642 461.8 648 462.5 654C463 658 463.5 662 464 666" stroke="#ece2e6" stroke-width="1.6" opacity="0.75" fill="none"/>
</g>
<path d="M297.2 672.60H307M302.4 669.40H307M302.4 666.20H307M302.4 663.00H307M302.4 659.80H307M300.1 656.60H307M302.4 653.40H307M302.4 650.20H307M302.4 647.00H307M302.4 643.80H307M297.2 640.60H307M302.4 637.40H307M302.4 634.20H307M302.4 631.00H307M302.4 627.80H307M300.1 624.60H307M302.4 621.40H307M302.4 618.20H307M302.4 615.00H307M302.4 611.80H307M297.2 608.60H307M302.4 605.40H307M302.4 602.20H307M302.4 599.00H307M302.4 595.80H307M300.1 592.60H307M302.4 589.40H307M302.4 586.20H307M302.4 583.00H307M302.4 579.80H307M297.2 576.60H307M302.4 573.40H307M302.4 570.20H307" stroke="#1c1c1c" stroke-width="1.25" fill="none"/>
<text transform="translate(298.40,579.30) rotate(-90)" x="0" y="0" font-size="7.0" text-anchor="middle" fill="#333" stroke="#333" stroke-width="0.1" >3</text>
<text transform="translate(298.40,611.30) rotate(-90)" x="0" y="0" font-size="7.0" text-anchor="middle" fill="#333" stroke="#333" stroke-width="0.1" >2</text>
<text transform="translate(298.40,643.50) rotate(-90)" x="0" y="0" font-size="7.0" text-anchor="middle" fill="#333" stroke="#333" stroke-width="0.1" >1</text>
<text transform="translate(299.00,664.60) rotate(-90)" x="0" y="0" font-size="8.0" text-anchor="middle" fill="#222" textLength="11.20" lengthAdjust="spacingAndGlyphs" stroke="#222" stroke-width="0.1" >CM</text>
<text transform="translate(333.50,690.80) rotate(-45)" x="0" y="0" font-size="11.5" text-anchor="end" fill="#111" textLength="38.87" lengthAdjust="spacingAndGlyphs" stroke="#111" stroke-width="0.22" >euTCL1</text>
<text transform="translate(392.40,690.50) rotate(-45)" x="0" y="0" font-size="11.5" text-anchor="end" fill="#111" textLength="94.72" lengthAdjust="spacingAndGlyphs" stroke="#111" stroke-width="0.22" >euTCL1/HDAC6KO</text>
<text transform="translate(431.30,690.50) rotate(-45)" x="0" y="0" font-size="11.5" text-anchor="end" fill="#111" textLength="52.82" lengthAdjust="spacingAndGlyphs" stroke="#111" stroke-width="0.22" >HDAC6KO</text>
<text transform="translate(470.60,690.50) rotate(-45)" x="0" y="0" font-size="11.5" text-anchor="end" fill="#111" textLength="16.98" lengthAdjust="spacingAndGlyphs" stroke="#111" stroke-width="0.22" >WT</text>
<rect x="1" y="1" width="518" height="1042" fill="none" stroke="#111" stroke-width="2"/>
<rect x="0" y="0" width="520" height="1" fill="#8a8a8a"/>
</svg>
</body></html>
